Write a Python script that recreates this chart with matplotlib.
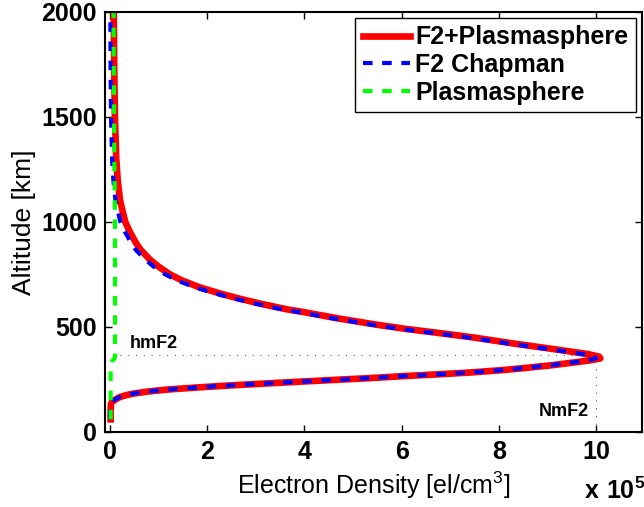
import numpy as np
import matplotlib
matplotlib.use("Agg")
import matplotlib.pyplot as plt

plt.rcParams['font.family'] = ['Liberation Sans', 'DejaVu Sans']
plt.rcParams['mathtext.fontset'] = 'custom'
plt.rcParams['mathtext.rm'] = 'Liberation Sans'
plt.rcParams['mathtext.bf'] = 'Liberation Sans:bold'

# ----------------------------
# Datos (densidad en unidades de 1e5 el/cm^3)
# ----------------------------
altitude = [60, 100, 130, 145, 150, 160, 167, 175, 183, 192, 202, 212, 222,
            232, 240, 250, 257, 265, 275, 283, 294, 306, 318, 333, 342, 350,
            358, 370, 392, 421, 449, 470, 490, 510, 540, 571, 583, 611, 635,
            659, 690, 722, 750, 786, 820, 866, 900, 950, 1000, 1100, 1200,
            1300, 1500, 1750, 2000]

chapman = [0.0, 0.0, 0.005, 0.03, 0.07, 0.14, 0.2, 0.32, 0.48, 0.75, 1.17,
           1.8, 2.5, 3.3, 3.95, 4.8, 5.4, 5.97, 6.8, 7.4, 8.05, 8.6, 9.1,
           9.6, 9.85, 10.0, 9.97, 9.75, 9.1, 8.2, 7.4, 6.7, 6.0, 5.4, 4.6,
           3.87, 3.55, 2.98, 2.55, 2.16, 1.72, 1.37, 1.13, 0.9, 0.72, 0.53,
           0.43, 0.31, 0.21, 0.11, 0.065, 0.04, 0.018, 0.008, 0.004]

plasma = [0.01, 0.01, 0.01, 0.01, 0.01, 0.01, 0.01, 0.01, 0.01, 0.01, 0.01,
          0.01, 0.01, 0.01, 0.01, 0.01, 0.01, 0.01, 0.01, 0.01, 0.01, 0.01,
          0.01, 0.03, 0.06, 0.09, 0.1, 0.1, 0.1, 0.1, 0.1, 0.1, 0.1, 0.1,
          0.1, 0.1, 0.1, 0.1, 0.1, 0.1, 0.1, 0.1, 0.1, 0.1, 0.1, 0.1, 0.1,
          0.1, 0.1, 0.095, 0.09, 0.085, 0.08, 0.075, 0.07]

hmF2 = 365
NmF2 = 10.0

labels = ["F2+Plasmasphere", "F2 Chapman", "Plasmasphere"]

h = np.array(altitude, dtype=float)
n_ch = np.array(chapman)
n_ps = np.array(plasma)
n_tot = n_ch + n_ps

fig = plt.figure(figsize=(6.44, 5.07), dpi=100)
ax = fig.add_axes([0.1635, 0.148, 0.8335, 0.829])

ax.plot([0.2, 9.8], [hmF2, hmF2], color='0.25', lw=0.7, ls=(0, (1, 7)))
ax.plot([NmF2, NmF2], [0, 340], color='0.25', lw=0.7, ls=(0, (1, 7)))

ax.plot(n_tot, h, color='#ff0000', lw=4.8, label=labels[0])
ax.plot(n_ch, h, color='#0000ff', lw=3, ls=(0, (2.3, 2.3)), label=labels[1])
ax.plot(n_ps, h, color='#00ff00', lw=3, ls=(0, (2.3, 2.3)), label=labels[2])

ax.text(0.4, 422, "hmF2", fontsize=13, fontweight='bold', va='center', ha='left')
ax.text(9.85, 95, "NmF2", fontsize=13, fontweight='bold', va='center', ha='right')

ax.set_xlim(-0.1, 10.95)
ax.set_ylim(0, 2000)
ax.set_xticks([0, 2, 4, 6, 8, 10])
ax.set_yticks([0, 500, 1000, 1500, 2000])
ax.tick_params(direction='in', length=5, width=1, top=True, right=True,
               labelsize=18, pad=6)
for lab in ax.get_xticklabels() + ax.get_yticklabels():
    lab.set_fontweight('bold')
for s in ax.spines.values():
    s.set_linewidth(1.5)

ax.set_xlabel(r"Electron Density [el/cm$^3$]", fontsize=18, labelpad=4)
ax.set_ylabel("Altitude [km]", fontsize=19, labelpad=4)

fig.text(584 / 644, 1 - 491 / 507, r"$\mathbf{x\ 10^{5}}$", fontsize=18,
         ha='left', va='center')

leg = ax.legend(loc='upper right', prop={'weight': 'bold', 'size': 18},
                frameon=True, fancybox=False, edgecolor='k', framealpha=1,
                borderaxespad=0.25, handlelength=1.9, handletextpad=0.2,
                borderpad=0.3, labelspacing=0.15)
leg.get_frame().set_linewidth(1.0)

fig.savefig("out.png", dpi=100)
